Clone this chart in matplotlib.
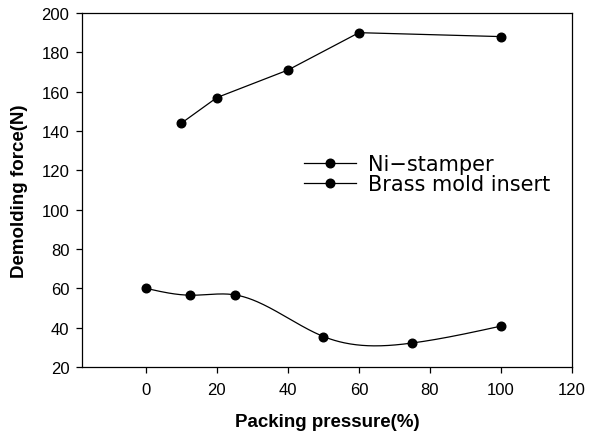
import numpy as np
import matplotlib
matplotlib.use("Agg")
import matplotlib.pyplot as plt

plt.rcParams['font.family'] = ['Liberation Sans', 'DejaVu Sans']

ni_x = [10, 20, 40, 60, 100]
ni_y = [144, 157, 171, 190, 188]
brass_x = [0, 12.5, 25, 50, 75, 100]
brass_y = [60, 56.5, 56.7, 35.5, 32.2, 40.8]
x_ticks = [0, 20, 40, 60, 80, 100, 120]
y_ticks = [20, 40, 60, 80, 100, 120, 140, 160, 180, 200]


def natural_spline(x, y, n=300):
    x = np.asarray(x, float); y = np.asarray(y, float)
    k = len(x); h = np.diff(x)
    A = np.zeros((k, k)); b = np.zeros(k)
    A[0, 0] = A[-1, -1] = 1
    for i in range(1, k - 1):
        A[i, i - 1] = h[i - 1]; A[i, i] = 2 * (h[i - 1] + h[i]); A[i, i + 1] = h[i]
        b[i] = 6 * ((y[i + 1] - y[i]) / h[i] - (y[i] - y[i - 1]) / h[i - 1])
    M = np.linalg.solve(A, b)
    xs = np.linspace(x[0], x[-1], n)
    idx = np.clip(np.searchsorted(x, xs) - 1, 0, k - 2)
    x0, x1 = x[idx], x[idx + 1]; hh = x1 - x0
    ys = (M[idx] * (x1 - xs) ** 3 / (6 * hh) + M[idx + 1] * (xs - x0) ** 3 / (6 * hh)
          + (y[idx] / hh - M[idx] * hh / 6) * (x1 - xs)
          + (y[idx + 1] / hh - M[idx + 1] * hh / 6) * (xs - x0))
    return xs, ys


fig = plt.figure(figsize=(6.04, 4.39), dpi=100)
ax = fig.add_axes([82 / 604, 1 - 368 / 439, 490 / 604, 354 / 439])

lw = 0.9
ms = 6.2
ax.plot(ni_x, ni_y, color='black', lw=lw, marker='o', ms=ms, label='Ni\u2212stamper')
bx, by = natural_spline(brass_x, brass_y)
ax.plot(bx, by, color='black', lw=lw)
ax.plot(brass_x, brass_y, color='black', lw=0, marker='o', ms=ms)
ax.plot([], [], color='black', lw=lw, marker='o', ms=ms, label='Brass mold insert')

ax.set_xlim(-18, 120)
ax.set_ylim(20, 200)
ax.set_xticks(x_ticks)
ax.set_yticks(y_ticks)
ax.tick_params(direction='out', length=4, width=0.9, labelsize=12, colors='black')
ax.tick_params(axis='y', pad=5)
ax.tick_params(axis='x', pad=7)
for s in ax.spines.values():
    s.set_linewidth(0.9)

ax.set_xlabel('Packing pressure(%)', fontsize=13.5, fontweight='bold', va='center')
ax.xaxis.set_label_coords(0.5, (368 - 423) / 354)
ax.set_ylabel('Demolding force(N)', fontsize=13.5, fontweight='bold', va='center')
ax.yaxis.set_label_coords((19 - 82) / 490, 0.5)

leg = ax.legend(loc='center left', bbox_to_anchor=((300 - 82) / 490, (368 - 175) / 354),
                frameon=False, prop={'family': 'DejaVu Sans', 'size': 15},
                handlelength=2.5, handletextpad=0.55, labelspacing=0.0,
                borderpad=0.2, borderaxespad=0)

fig.savefig('out.png', dpi=100)
